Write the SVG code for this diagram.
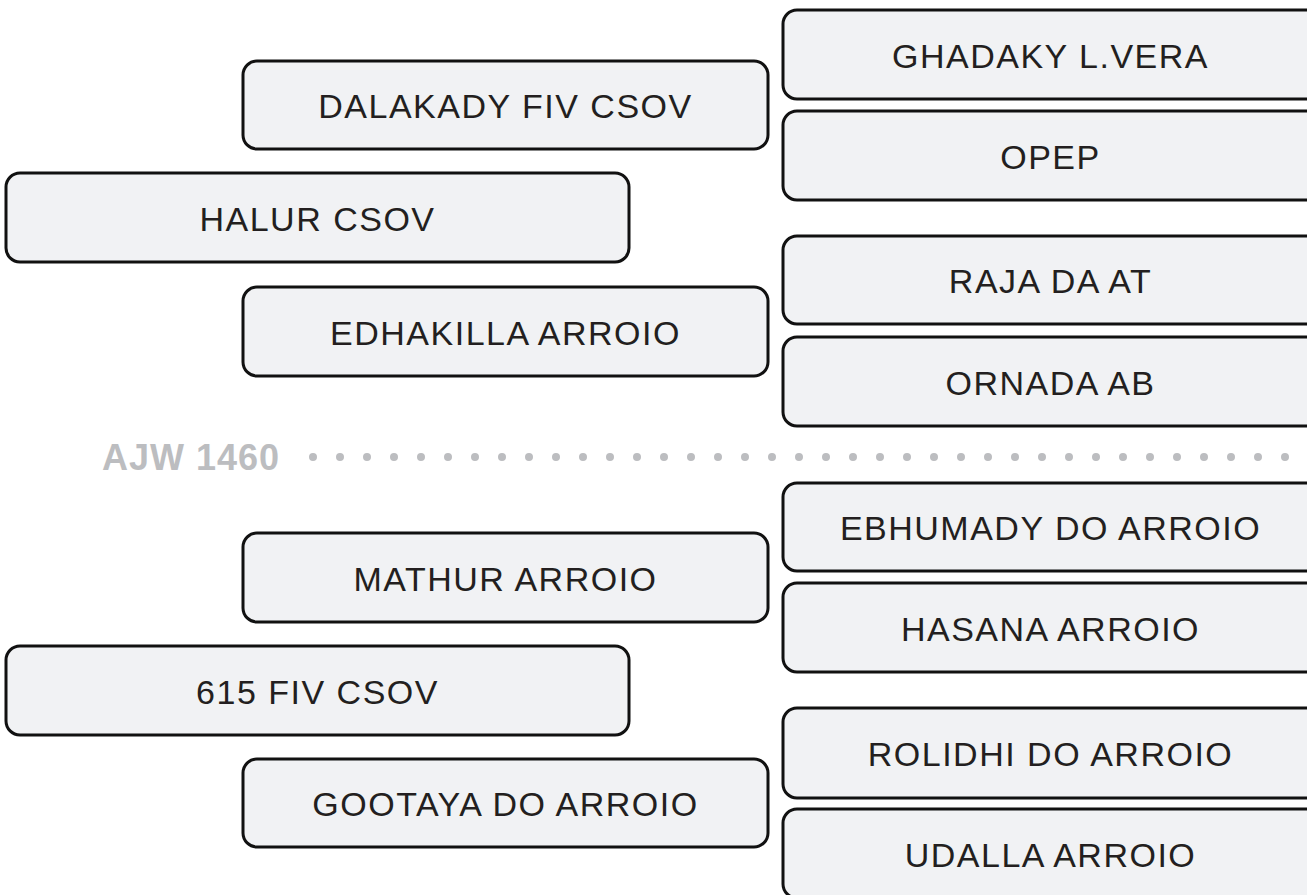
<svg xmlns="http://www.w3.org/2000/svg" width="1307" height="895" viewBox="0 0 1307 895">
  <style>
    .box { fill: #f1f2f4; stroke: #111111; stroke-width: 3; }
    .lbl { font-family: "Liberation Sans", Arial, sans-serif; font-size: 34px; fill: #231f20; text-anchor: middle; letter-spacing: 1.5px; }
    .div { font-family: "Liberation Sans", Arial, sans-serif; font-size: 36px; font-weight: bold; fill: #bcbdc0; letter-spacing: 1px; }
    .dots { stroke: #bcbdc0; stroke-width: 8; stroke-linecap: round; stroke-dasharray: 0 27; fill: none; }
  </style>
  <rect width="1307" height="895" fill="#ffffff"/>

  <g id="divider">
    <text class="div" x="102" y="470">AJW 1460</text>
    <line class="dots" x1="313" y1="457" x2="1290" y2="457"/>
  </g>

  <g id="connectors"></g>

  <g id="n-dalakady"><rect class="box" x="243" y="61" width="525" height="88" rx="14"/><text class="lbl" x="505.5" y="118">DALAKADY FIV CSOV</text></g>
  <g id="n-halur"><rect class="box" x="6" y="173" width="623" height="89" rx="14"/><text class="lbl" x="317.5" y="230.5">HALUR CSOV</text></g>
  <g id="n-edhakilla"><rect class="box" x="243" y="287" width="525" height="89" rx="14"/><text class="lbl" x="505.5" y="344.5">EDHAKILLA ARROIO</text></g>
  <g id="n-ghadaky"><rect class="box" x="783" y="10" width="537" height="89" rx="14"/><text class="lbl" x="1050.5" y="67.5">GHADAKY L.VERA</text></g>
  <g id="n-opep"><rect class="box" x="783" y="111" width="537" height="89" rx="14"/><text class="lbl" x="1050.5" y="168.5">OPEP</text></g>
  <g id="n-raja"><rect class="box" x="783" y="236" width="537" height="88" rx="14"/><text class="lbl" x="1050.5" y="293">RAJA DA AT</text></g>
  <g id="n-ornada"><rect class="box" x="783" y="337" width="537" height="89" rx="14"/><text class="lbl" x="1050.5" y="394.5">ORNADA AB</text></g>

  <g id="n-mathur"><rect class="box" x="243" y="533" width="525" height="89" rx="14"/><text class="lbl" x="505.5" y="590.5">MATHUR ARROIO</text></g>
  <g id="n-615"><rect class="box" x="6" y="646" width="623" height="89" rx="14"/><text class="lbl" x="317.5" y="703.5">615 FIV CSOV</text></g>
  <g id="n-gootaya"><rect class="box" x="243" y="759" width="525" height="88" rx="14"/><text class="lbl" x="505.5" y="816">GOOTAYA DO ARROIO</text></g>
  <g id="n-ebhumady"><rect class="box" x="783" y="483" width="537" height="88" rx="14"/><text class="lbl" x="1050.5" y="540">EBHUMADY DO ARROIO</text></g>
  <g id="n-hasana"><rect class="box" x="783" y="583" width="537" height="89" rx="14"/><text class="lbl" x="1050.5" y="640.5">HASANA ARROIO</text></g>
  <g id="n-rolidhi"><rect class="box" x="783" y="708" width="537" height="90" rx="14"/><text class="lbl" x="1050.5" y="766">ROLIDHI DO ARROIO</text></g>
  <g id="n-udalla"><rect class="box" x="783" y="809" width="537" height="89" rx="14"/><text class="lbl" x="1050.5" y="866.5">UDALLA ARROIO</text></g>
</svg>
